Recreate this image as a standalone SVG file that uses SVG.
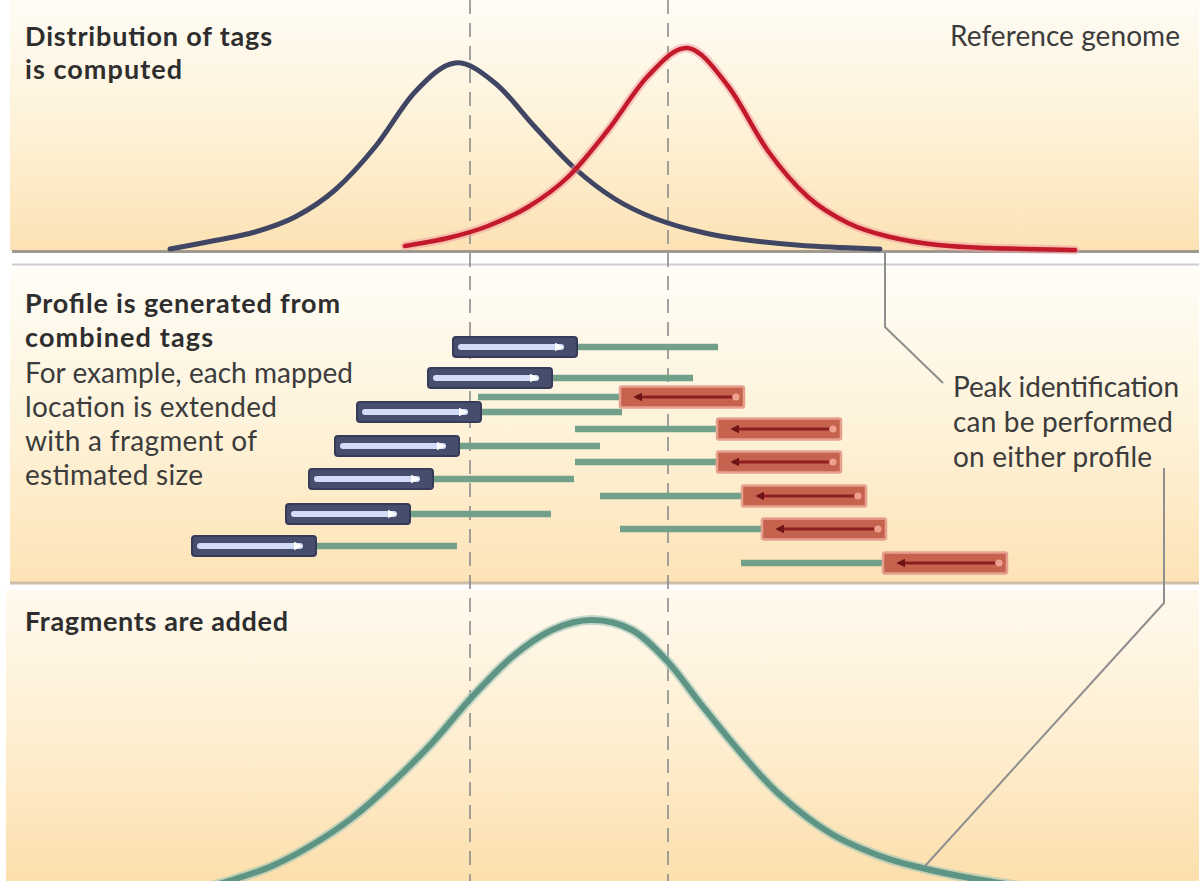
<svg xmlns="http://www.w3.org/2000/svg" width="1199" height="881" viewBox="0 0 1199 881">
<style>
.title{font-family:Lato,"Open Sans","Liberation Sans",sans-serif;font-weight:700;font-size:27px;fill:#2e2e2e}
.body{font-family:Lato,"Open Sans","Liberation Sans",sans-serif;font-weight:400;font-size:28px;fill:#3c3c3c}
.guide{stroke:#8c8c8c;stroke-width:1.6;stroke-dasharray:14 9;fill:none}
.leader{stroke:#8f8f8f;stroke-width:2;fill:none}
.frag{stroke:#72a08b;stroke-width:6.5;stroke-linecap:butt}
</style>
<defs>
<linearGradient id="gTop" x1="0" y1="0" x2="0" y2="1"><stop offset="0" stop-color="#fffcf5"/><stop offset="0.5" stop-color="#fef2d8"/><stop offset="1" stop-color="#fce2b4"/></linearGradient>
<linearGradient id="gMid" x1="0" y1="0" x2="0" y2="1"><stop offset="0" stop-color="#fffdf7"/><stop offset="0.5" stop-color="#fef3da"/><stop offset="1" stop-color="#fde3b6"/></linearGradient>
<linearGradient id="gBot" x1="0" y1="0" x2="0" y2="1"><stop offset="0" stop-color="#fff9ee"/><stop offset="0.5" stop-color="#feefd2"/><stop offset="1" stop-color="#fcdfac"/></linearGradient>
<marker id="arrW" viewBox="0 0 10 10" refX="7" refY="5" markerUnits="userSpaceOnUse" markerWidth="9" markerHeight="9" orient="auto"><path d="M0,0 L10,5 L0,10 z" fill="#ffffff"/></marker>
<marker id="arrR" viewBox="0 0 10 10" refX="7" refY="5" markerUnits="userSpaceOnUse" markerWidth="9" markerHeight="9" orient="auto-start-reverse"><path d="M0,0 L10,5 L0,10 z" fill="#6e1414"/></marker>
<g id="blueTag">
<rect x="0" y="-10" width="124" height="20" rx="3" fill="#474d6d" stroke="#363b57" stroke-width="2"/>
<line x1="8" y1="0" x2="108" y2="0" stroke="#d3dcf7" stroke-width="6" stroke-linecap="round" marker-end="url(#arrW)"/>
</g>
<g id="redTag">
<rect x="0" y="-10.5" width="124" height="21" rx="2" fill="#c6634f" stroke="#e7a08e" stroke-width="2.5"/>
<line x1="16" y1="0" x2="112" y2="0" stroke="#8c2020" stroke-width="3" marker-start="url(#arrR)"/>
<circle cx="116" cy="0" r="3.5" fill="#efa190"/>
</g>
</defs>

<rect x="0" y="0" width="1199" height="881" fill="#ffffff"/>

<g id="panel-top">
<rect x="10" y="0" width="1189" height="251" fill="url(#gTop)"/>
<line x1="12" y1="251.5" x2="1199" y2="251.5" stroke="#9e9a92" stroke-width="3"/>
</g>
<g id="panel-middle">
<line x1="12" y1="264.5" x2="1199" y2="264.5" stroke="#cdcdcd" stroke-width="2"/>
<rect x="10" y="266" width="1189" height="316" fill="url(#gMid)"/>
<line x1="10" y1="583" x2="1199" y2="583" stroke="#cbbfa8" stroke-width="3"/>
</g>
<g id="panel-bottom">
<rect x="6" y="590" width="1193" height="291" fill="url(#gBot)"/>
</g>

<g id="guides">
<line class="guide" x1="470" y1="0" x2="470" y2="881"/>
<line class="guide" x1="668" y1="0" x2="668" y2="881"/>
</g>

<g id="curve-blue">
<path d="M170,249 C177.5,247.6 200.8,243.3 215,240.5 C229.2,237.7 241.7,235.9 255,232 C268.3,228.1 281.7,224 295,217 C308.3,210 321.7,201.7 335,190 C348.3,178.3 361.7,163.3 375,147 C388.3,130.7 401.7,106 415,92 C428.3,78 441.7,64.5 455,63 C468.3,61.5 481.7,72.3 495,83 C508.3,93.7 521.7,112.8 535,127 C548.3,141.3 561.7,156.5 575,168.5 C588.3,180.5 601.7,190.7 615,199 C628.3,207.3 640,212.8 655,218.5 C670,224.2 688.3,229.3 705,233 C721.7,236.8 738.3,238.9 755,241 C771.7,243.1 784.2,244.4 805,245.7 C825.8,247 867.5,248.5 880,249" fill="none" stroke="#3f4563" stroke-width="5" stroke-linecap="round"/>
</g>
<g id="curve-red">
<path d="M405,246 C412.2,244.7 434.2,241.3 448,238 C461.8,234.7 474.7,231.2 488,226 C501.3,220.8 514.7,215.2 528,207 C541.3,198.8 554.7,189.8 568,177 C581.3,164.2 594.7,146.8 608,130 C621.3,113.2 634.7,89.7 648,76 C661.3,62.3 674.7,46.3 688,48 C701.3,49.7 714.7,68.8 728,86 C741.3,103.2 754.7,132.5 768,151 C781.3,169.5 794.7,185 808,197 C821.3,209 834.7,216.4 848,223 C861.3,229.6 873,232.8 888,236.5 C903,240.2 921.3,243.1 938,245 C954.7,246.9 965.2,247.2 988,248 C1010.8,248.8 1060.5,249.7 1075,250" fill="none" stroke="#f29aa0" stroke-opacity="0.5" stroke-width="9" stroke-linecap="round"/>
<path d="M405,246 C412.2,244.7 434.2,241.3 448,238 C461.8,234.7 474.7,231.2 488,226 C501.3,220.8 514.7,215.2 528,207 C541.3,198.8 554.7,189.8 568,177 C581.3,164.2 594.7,146.8 608,130 C621.3,113.2 634.7,89.7 648,76 C661.3,62.3 674.7,46.3 688,48 C701.3,49.7 714.7,68.8 728,86 C741.3,103.2 754.7,132.5 768,151 C781.3,169.5 794.7,185 808,197 C821.3,209 834.7,216.4 848,223 C861.3,229.6 873,232.8 888,236.5 C903,240.2 921.3,243.1 938,245 C954.7,246.9 965.2,247.2 988,248 C1010.8,248.8 1060.5,249.7 1075,250" fill="none" stroke="#c2192b" stroke-width="4.5" stroke-linecap="round"/>
</g>

<g id="fragments">
<line class="frag" x1="577" y1="347" x2="718" y2="347"/>
<line class="frag" x1="552" y1="378" x2="693" y2="378"/>
<line class="frag" x1="478" y1="397" x2="620" y2="397"/>
<line class="frag" x1="481" y1="412" x2="622" y2="412"/>
<line class="frag" x1="575" y1="429" x2="717" y2="429"/>
<line class="frag" x1="459" y1="446" x2="600" y2="446"/>
<line class="frag" x1="575" y1="462" x2="717" y2="462"/>
<line class="frag" x1="433" y1="479" x2="574" y2="479"/>
<line class="frag" x1="600" y1="496" x2="742" y2="496"/>
<line class="frag" x1="410" y1="514" x2="551" y2="514"/>
<line class="frag" x1="620" y1="529" x2="762" y2="529"/>
<line class="frag" x1="316" y1="546" x2="457" y2="546"/>
<line class="frag" x1="741" y1="563" x2="883" y2="563"/>
</g>

<g id="tag-b1"><use href="#blueTag" x="453" y="347"/></g>
<g id="tag-b2"><use href="#blueTag" x="428" y="378"/></g>
<g id="tag-b3"><use href="#blueTag" x="357" y="412"/></g>
<g id="tag-b4"><use href="#blueTag" x="335" y="446"/></g>
<g id="tag-b5"><use href="#blueTag" x="309" y="479"/></g>
<g id="tag-b6"><use href="#blueTag" x="286" y="514"/></g>
<g id="tag-b7"><use href="#blueTag" x="192" y="546"/></g>
<g id="tag-r1"><use href="#redTag" x="620" y="397"/></g>
<g id="tag-r2"><use href="#redTag" x="717" y="429"/></g>
<g id="tag-r3"><use href="#redTag" x="717" y="462"/></g>
<g id="tag-r4"><use href="#redTag" x="742" y="496"/></g>
<g id="tag-r5"><use href="#redTag" x="762" y="529"/></g>
<g id="tag-r6"><use href="#redTag" x="883" y="563"/></g>

<g id="curve-green">
<path d="M190,892 C197,890 218.3,884.3 232,880 C245.7,875.7 258.7,871.8 272,866 C285.3,860.2 298.7,853 312,845 C325.3,837 338.7,828.3 352,818 C365.3,807.7 378.7,795.5 392,783 C405.3,770.5 418.7,757.3 432,743 C445.3,728.7 458.7,711.3 472,697 C485.3,682.7 498.7,668.2 512,657 C525.3,645.8 538.7,636.2 552,630 C565.3,623.8 578.7,620 592,620 C605.3,620 619.3,623 632,630 C644.7,637 656.7,649.8 668,662 C679.3,674.2 688,688 700,703 C712,718 726.7,736.7 740,752 C753.3,767.3 765,781.5 780,795 C795,808.5 813.3,822.8 830,833 C846.7,843.2 864.7,850.2 880,856 C895.3,861.8 907,864.3 922,868 C937,871.7 953.7,875 970,878 C986.3,881 1011.7,884.7 1020,886" fill="none" stroke="#9cc4b8" stroke-opacity="0.6" stroke-width="10"/>
<path d="M190,892 C197,890 218.3,884.3 232,880 C245.7,875.7 258.7,871.8 272,866 C285.3,860.2 298.7,853 312,845 C325.3,837 338.7,828.3 352,818 C365.3,807.7 378.7,795.5 392,783 C405.3,770.5 418.7,757.3 432,743 C445.3,728.7 458.7,711.3 472,697 C485.3,682.7 498.7,668.2 512,657 C525.3,645.8 538.7,636.2 552,630 C565.3,623.8 578.7,620 592,620 C605.3,620 619.3,623 632,630 C644.7,637 656.7,649.8 668,662 C679.3,674.2 688,688 700,703 C712,718 726.7,736.7 740,752 C753.3,767.3 765,781.5 780,795 C795,808.5 813.3,822.8 830,833 C846.7,843.2 864.7,850.2 880,856 C895.3,861.8 907,864.3 922,868 C937,871.7 953.7,875 970,878 C986.3,881 1011.7,884.7 1020,886" fill="none" stroke="#5e9484" stroke-width="6"/>
</g>

<g id="connectors">
<path class="leader" d="M885,252 V327 L943,383"/>
<path class="leader" d="M1164,468 V603 L925,866"/>
</g>

<g id="label-distribution">
<text class="title" x="25" y="46" textLength="247" lengthAdjust="spacing">Distribution of tags</text>
<text class="title" x="25" y="79" textLength="157" lengthAdjust="spacing">is computed</text>
</g>
<g id="label-reference">
<text class="body" x="950" y="46" textLength="230" lengthAdjust="spacing">Reference genome</text>
</g>
<g id="label-profile">
<text class="title" x="25" y="313" textLength="315" lengthAdjust="spacing">Profile is generated from</text>
<text class="title" x="25" y="347" textLength="188" lengthAdjust="spacing">combined tags</text>
<text class="body" x="25" y="383" textLength="328" lengthAdjust="spacing">For example, each mapped</text>
<text class="body" x="25" y="417" textLength="252" lengthAdjust="spacing">location is extended</text>
<text class="body" x="25" y="451" textLength="232" lengthAdjust="spacing">with a fragment of</text>
<text class="body" x="25" y="485" textLength="178" lengthAdjust="spacing">estimated size</text>
</g>
<g id="label-peak">
<text class="body" x="953" y="397" textLength="226" lengthAdjust="spacing">Peak identification</text>
<text class="body" x="953" y="432" textLength="220" lengthAdjust="spacing">can be performed</text>
<text class="body" x="953" y="467" textLength="199" lengthAdjust="spacing">on either profile</text>
</g>
<g id="label-fragments">
<text class="title" x="25" y="631" textLength="263" lengthAdjust="spacing">Fragments are added</text>
</g>
</svg>
